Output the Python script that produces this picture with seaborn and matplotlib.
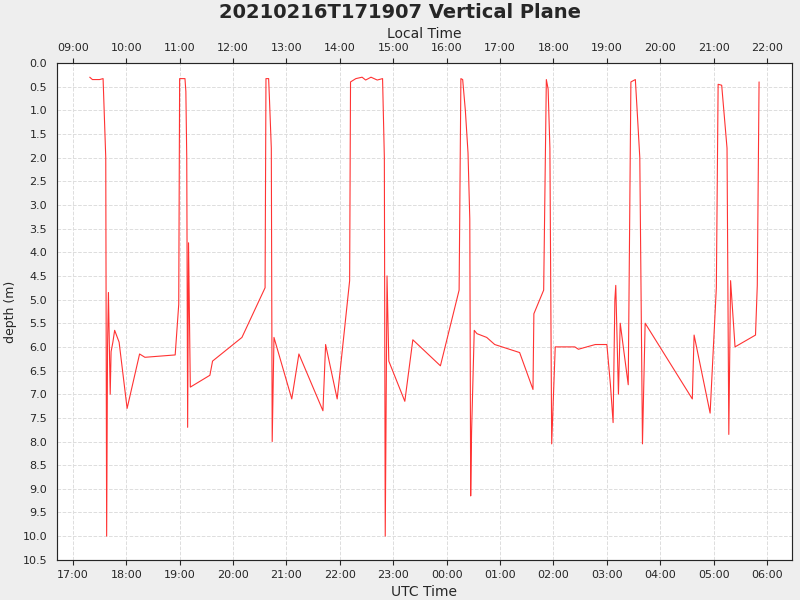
import matplotlib
matplotlib.use("Agg")
import matplotlib.pyplot as plt
import matplotlib.dates as mdates
import seaborn as sns
import pandas as pd
import numpy as np

start = "2021-02-16 17:00"
minutes = [19,22,30,34,37,38,39,40,42,43,45,47,52,61,75,81,115,119,120,126,127,128,129,130,132,154,157,190,216,217,220,221,223,224,226,246,254,281,284,297,311,312,318,325,329,335,342,348,350,351,353,355,373,382,413,434,436,438,441,444,446,447,448,451,454,465,474,502,517,518,529,532,534,536,538,542,564,568,587,600,604,607,609,610,613,615,624,627,632,634,637,640,643,696,698,716,723,725,729,735,737,739,744,767,769,771]
depth = [0.3,0.35,0.35,0.33,2.0,10.0,6.0,4.85,7.0,6.1,5.9,5.65,5.9,7.3,6.15,6.22,6.17,5.1,0.33,0.33,0.6,2.0,7.7,3.8,6.85,6.6,6.3,5.8,4.75,0.33,0.33,0.8,1.8,8.0,5.8,7.1,6.15,7.35,5.95,7.1,4.6,0.4,0.33,0.3,0.36,0.3,0.36,0.33,2.0,10.0,4.5,6.3,7.15,5.85,6.4,4.8,0.33,0.35,1.0,1.9,3.3,9.15,7.8,5.65,5.72,5.8,5.95,6.12,6.9,5.3,4.8,0.35,0.55,1.8,8.05,6.0,6.0,6.05,5.95,5.95,6.8,7.6,5.0,4.7,7.0,5.5,6.8,0.4,0.35,1.0,2.0,8.05,5.5,7.1,5.75,7.4,4.75,0.45,0.47,1.8,7.85,4.6,6.0,5.75,4.7,0.4]

t0 = pd.Timestamp(start)
df = pd.DataFrame({"time": [t0 + pd.Timedelta(minutes=m) for m in minutes], "depth": depth})

sns.set_style("white")
fig = plt.figure(figsize=(8, 6), dpi=100, facecolor="#eeeeee")
ax = fig.add_axes([0.071, 0.067, 0.919, 0.828])
sns.lineplot(data=df, x="time", y="depth", sort=False, color="#ff3333", lw=0.8, ax=ax)
xmin = t0 - pd.Timedelta(minutes=18)
xmax = t0 + pd.Timedelta(minutes=808)
ax.set_xlim(xmin, xmax)
ax.set_ylim(10.5, 0)
ax.set_yticks(np.arange(0, 10.51, 0.5))
ax.set_yticklabels([f"{v:.1f}" for v in np.arange(0, 10.51, 0.5)], fontsize=8)
ax.xaxis.set_major_locator(mdates.HourLocator())
ax.xaxis.set_major_formatter(mdates.DateFormatter("%H:%M"))
ax.tick_params(axis="x", labelsize=8)
ax.grid(True, ls="--", color="#dddddd", lw=0.7)
ax.set_xlabel("UTC Time", fontsize=10)
ax.set_ylabel("depth (m)", fontsize=9)
for s in ax.spines.values():
    s.set_color("#888888")

ax2 = ax.twiny()
ax2.set_xlim(mdates.date2num(xmin - pd.Timedelta(hours=8)), mdates.date2num(xmax - pd.Timedelta(hours=8)))
ax2.xaxis.set_major_locator(mdates.HourLocator())
ax2.xaxis.set_major_formatter(mdates.DateFormatter("%H:%M"))
ax2.tick_params(axis="x", labelsize=8)
ax2.set_xlabel("Local Time", fontsize=10)
fig.suptitle("20210216T171907 Vertical Plane", fontsize=14, fontweight="bold", y=0.995)
fig.savefig("out.png", facecolor=fig.get_facecolor())
